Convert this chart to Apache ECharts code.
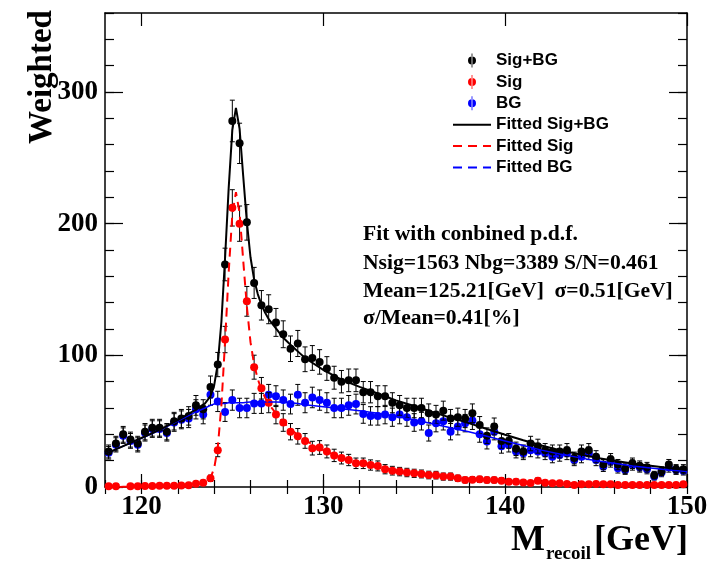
<!DOCTYPE html>
<html>
<head>
<meta charset="utf-8">
<script src="https://cdn.jsdelivr.net/npm/echarts/dist/echarts.min.js"></script>
<style>
  html, body { margin: 0; padding: 0; background: #fff; }
  #chart { width: 717px; height: 562px; }
</style>
</head>
<body>
<div id="chart"></div>
<script>
// Binning of the recoil-mass histogram
const binLo = 118;
const binWidth = 0.4;

// Weighted bin contents and their errors
const sigbg = [27,33,40,36,33,42,45,45,42,50, 52,54,62,59,76,93,169,278,261,201,
  155,138,135,125,116,105,109,97,98,95, 90,83,80,81,81,72,72,69,69,64,
  62,60,60,60,56,55,58,52,53,52, 56,47,39,46,35,35,29,27,33,31,
  28,27,27,28,22,27,28,23,17,21, 17,14,18,16,15,9,12,17,13.5,13.5];
const sigbgErr = [4.9,5.5,6,5.7,5.5,6.2,6.4,6.4,6.2,6.7, 6.9,7,7.5,7.3,8.3,9.2,12.4,15.8,15.3,13.5,
  11.8,11.2,11,10.6,10.2,9.7,9.9,9.4,9.4,9.3, 9,8.7,8.5,8.6,8.6,8.1,8.1,7.9,7.9,7.6,
  7.5,7.4,7.4,7.4,7.1,7,7.2,6.9,6.9,6.9, 7.1,6.5,5.9,6.4,5.6,5.6,5.1,4.9,5.5,5.3,
  5,4.9,4.9,5,4.5,4.9,5,4.6,3.9,4.4, 3.9,3.6,4,3.8,3.7,2.9,3.3,3.9,3.5,3.5];

const sig = [0.5,0.5,null,0.5,0.6,0.7,0.8,0.9,1,1, 1.2,1.3,2.5,3.3,6.6,28,112,212,200,141,
  91,75,64,55,49,42,38.5,35,29.5,30, 27,24,22,20.5,18,18,16.7,16,13.5,12.4,
  11.7,11,10.4,9.9,9.1,9,7.9,7.9,6.6,5.3, 5.6,5.8,5.3,5.3,4.8,4,4,3.5,3,4.8,
  3.2,2.8,2.8,2.3,1.5,2,2,2.3,2,2, 1.5,1.5,1.5,1.5,1.5,1.5,1.5,1.5,1.5,2];
const sigErr = [0.7,0.7,null,0.7,0.7,0.8,0.9,0.9,1,1, 1,1.1,1.5,1.7,2.4,5,10,13.8,13.4,11.3,
  9.1,8.2,7.6,7,6.7,6.2,5.9,5.6,5.2,5.2, 4.9,4.7,4.5,4.3,4,4,3.9,3.8,3.5,3.3,
  3.2,3.2,3.1,3,2.9,2.9,2.7,2.7,2.4,2.2, 2.2,2.3,2.2,2.2,2.1,1.9,1.9,1.8,1.6,2.1,
  1.7,1.6,1.6,1.4,1.2,1.3,1.3,1.4,1.3,1.3, 1.2,1.2,1.2,1.2,1.2,1.2,1.2,1.2,1.2,1.3];

const bg = [26,32,39,35,32,41,44,44,41,49, 51,52,59,55,70,65,57,66,60,60,
  63.5,63.5,70,69,66,63,70,64,68,66, 64,60,60,62,63,55.5,54,54,55,53,
  55,53,49,50,41,48.5,50,42,46,48.5, 50.5,40,34.5,42,31,32,27,25.6,28,27,
  25.6,23,24.3,25.6,20.5,23,25.6,20.5,15.5,19.3, 14.2,13,16.7,15,13.5,8,11,15,13,12.4];
const bgErr = [4.8,5.4,5.9,5.6,5.4,6.1,6.3,6.3,6.1,6.7, 6.8,6.9,7.3,7,7.9,7.7,7.2,7.7,7.4,7.4,
  7.6,7.6,7.9,7.9,7.7,7.5,7.9,7.6,7.8,7.7, 7.6,7.4,7.4,7.5,7.5,7.1,7,7,7,6.9,
  7,6.9,6.7,6.7,6.1,6.6,6.7,6.2,6.4,6.6, 6.8,6,5.6,6.2,5.3,5.4,4.9,4.8,5,4.9,
  4.8,4.6,4.7,4.8,4.3,4.6,4.8,4.3,3.7,4.2, 3.6,3.4,3.9,3.7,3.5,2.7,3.2,3.7,3.4,3.3];

// Fitted p.d.f. curves, sampled along the recoil mass
const fitX = [118,119,120,121,122,123,123.5,123.8,124.0,124.2,124.4,124.6,124.8,125.0,125.2,125.4,125.6,125.8,126.0,126.2,
  126.4,126.6,126.8,127.0,127.4,127.8,128.2,128.6,129,130,131,132,133,134,135,136,137,138,139,140,
  141,142,143,144,145,146,147,148,149,150];
const fitSig = [0,0.1,0.2,0.4,0.8,1.8,3.5,7,14,30,62,110,163,207,224,208,172,137,110,93,
  82,74,68,63,56,49,44,39.5,35.5,28,22,18,15,12.3,10.5,9,7.7,6.5,5.5,4.7,
  4,3.5,3,2.6,2.3,2,1.8,1.6,1.4,1.3];
const fitBG = [25,31,37,43,50,57,60,62,63,63.5,63.5,63.5,64,64,64,64,64,64.3,64.5,64.5,
  64.5,64.5,64.5,64.5,64.5,64.3,64,63.5,62.5,61,59.5,58,56,53.5,51,48,45,42,38.5,35,
  31.5,28,25,22.5,20,18,16,14.5,13,11.8];
const fitSigBG = [25,31.1,37.2,43.4,50.8,58.8,63.5,69,77,93.5,125.5,173.5,227,271,288,272,236,201.3,174.5,157.5,
  146.5,138.5,132.5,127.5,120.5,113.3,108,103,98,89,81.5,76,71,65.8,61.5,57,52.7,48.5,44,39.7,
  35.5,31.5,28,25.1,22.3,20,17.8,16.1,14.4,13.1];

// Axis ticks and labels
const xMajorTicks = [120, 130, 140, 150];
const yMajorTicks = [0, 100, 200, 300];

const xMin = 118, xMax = 150, yMin = 0, yMax = 360;

const binCenters = sigbg.map((_, i) => binLo + binWidth * (i + 0.5));

function points(vals) {
  const out = [];
  vals.forEach((v, i) => { if (v != null) out.push([binCenters[i], v]); });
  return out;
}
function errorBars(vals, errs) {
  const out = [];
  vals.forEach((v, i) => { if (v != null) out.push([binCenters[i], v - errs[i], v + errs[i]]); });
  return out;
}
function curve(ys) { return fitX.map((x, i) => [x, ys[i]]); }

function renderErr(params, api) {
  const x = api.value(0);
  const lo = api.coord([x, api.value(1)]);
  const hi = api.coord([x, api.value(2)]);
  const cap = 2.5;
  const st = { stroke: '#000', lineWidth: 1 };
  return {
    type: 'group',
    children: [
      { type: 'line', shape: { x1: lo[0], y1: lo[1], x2: hi[0], y2: hi[1] }, style: st },
      { type: 'line', shape: { x1: lo[0] - cap, y1: lo[1], x2: lo[0] + cap, y2: lo[1] }, style: st },
      { type: 'line', shape: { x1: hi[0] - cap, y1: hi[1], x2: hi[0] + cap, y2: hi[1] }, style: st }
    ]
  };
}

const serif = 'Liberation Serif';
const sans = 'Liberation Sans';
const frameLine = { show: true, onZero: false, lineStyle: { color: '#000', width: 1.5 } };
const tickStyle = { color: '#000', width: 1.2 };

function xAx(pos, major) {
  return {
    type: 'value', min: xMin, max: xMax, position: pos,
    interval: major ? undefined : 2,
    axisLine: major ? frameLine : { show: false },
    axisTick: major
      ? { inside: true, length: 13, customValues: xMajorTicks, lineStyle: tickStyle }
      : { inside: true, length: 7, lineStyle: tickStyle },
    axisLabel: (major && pos === 'bottom')
      ? { customValues: xMajorTicks, margin: 7, fontFamily: serif, fontWeight: 'bold', fontSize: 27, color: '#000' }
      : { show: false },
    splitLine: { show: false }
  };
}
function yAx(pos, major) {
  return {
    type: 'value', min: yMin, max: yMax, position: pos,
    interval: major ? undefined : 20,
    axisLine: major ? frameLine : { show: false },
    axisTick: major
      ? { inside: true, length: 18, customValues: yMajorTicks, lineStyle: tickStyle }
      : { inside: true, length: 9, lineStyle: tickStyle },
    axisLabel: (major && pos === 'left')
      ? { customValues: yMajorTicks, margin: 7, fontFamily: serif, fontWeight: 'bold', fontSize: 27, color: '#000' }
      : { show: false },
    splitLine: { show: false }
  };
}

const markerIcon = 'path://M4.6,0h0.8v14h-0.8z M1,7a4,4 0 1,0 8,0a4,4 0 1,0 -8,0z';
const noMarker = { opacity: 0 };

const textFont = 'bold 21.6px "Liberation Serif"';

const chart = echarts.init(document.getElementById('chart'), null, { renderer: 'canvas' });
chart.setOption({
  animation: false,
  backgroundColor: '#fff',
  grid: { left: 105, right: 30, top: 13, bottom: 75, containLabel: false },
  xAxis: [xAx('bottom', true), xAx('bottom', false), xAx('top', true), xAx('top', false)],
  yAxis: [yAx('left', true), yAx('left', false), yAx('right', true), yAx('right', false)],
  legend: {
    orient: 'vertical', left: 447, top: 47,
    itemWidth: 38, itemHeight: 14, itemGap: 4.4,
    selectedMode: false,
    textStyle: { fontFamily: sans, fontWeight: 'bold', fontSize: 17, color: '#000' },
    data: [
      { name: 'Sig+BG', icon: markerIcon },
      { name: 'Sig', icon: markerIcon },
      { name: 'BG', icon: markerIcon },
      { name: 'Fitted Sig+BG', itemStyle: noMarker },
      { name: 'Fitted Sig', itemStyle: noMarker },
      { name: 'Fitted BG', itemStyle: noMarker, lineStyle: { type: [9, 6] } }
    ]
  },
  series: [
    { type: 'custom', name: 'BG errors', renderItem: renderErr, data: errorBars(bg, bgErr), encode: { x: 0, y: [1, 2] }, clip: true, z: 2 },
    { type: 'scatter', name: 'BG', data: points(bg), symbolSize: 8, itemStyle: { color: '#0000ff', opacity: 1 }, z: 3 },
    { type: 'custom', name: 'Sig errors', renderItem: renderErr, data: errorBars(sig, sigErr), encode: { x: 0, y: [1, 2] }, clip: true, z: 4 },
    { type: 'scatter', name: 'Sig', data: points(sig), symbolSize: 8, itemStyle: { color: '#ff0000', opacity: 1 }, z: 5 },
    { type: 'custom', name: 'Sig+BG errors', renderItem: renderErr, data: errorBars(sigbg, sigbgErr), encode: { x: 0, y: [1, 2] }, clip: true, z: 6 },
    { type: 'scatter', name: 'Sig+BG', data: points(sigbg), symbolSize: 8, itemStyle: { color: '#000000', opacity: 1 }, z: 7 },
    { type: 'line', name: 'Fitted BG', data: curve(fitBG), symbol: 'none', lineStyle: { color: '#0000ff', width: 1.5 }, itemStyle: { color: '#0000ff' }, z: 8 },
    { type: 'line', name: 'Fitted Sig', data: curve(fitSig), symbol: 'none', lineStyle: { color: '#ff0000', width: 2, type: [9, 6] }, itemStyle: { color: '#ff0000' }, z: 9 },
    { type: 'line', name: 'Fitted Sig+BG', data: curve(fitSigBG), symbol: 'none', lineStyle: { color: '#000000', width: 2 }, itemStyle: { color: '#000000' }, z: 10 }
  ],
  graphic: [
    { type: 'text', left: 363, top: 223, style: { text: 'Fit with conbined p.d.f.', font: textFont, fill: '#000' } },
    { type: 'text', left: 363, top: 252, style: { text: 'Nsig=1563 Nbg=3389 S/N=0.461', font: textFont, fill: '#000' } },
    { type: 'text', left: 363, top: 280, style: { text: 'Mean=125.21[GeV]  \u03c3=0.51[GeV]', font: textFont, fill: '#000' } },
    { type: 'text', left: 363, top: 307, style: { text: '\u03c3/Mean=0.41[%]', font: textFont, fill: '#000' } },
    { type: 'text', x: 42, y: 77, rotation: Math.PI / 2, style: { text: 'Weighted', font: 'bold 33px "Liberation Serif"', fill: '#000', align: 'center', verticalAlign: 'middle' } },
    { type: 'text', x: 511, y: 559, style: { text: 'M', font: 'bold 36px "Liberation Serif"', fill: '#000', align: 'left', verticalAlign: 'bottom' } },
    { type: 'text', x: 546, y: 564, style: { text: 'recoil', font: 'bold 19px "Liberation Serif"', fill: '#000', align: 'left', verticalAlign: 'bottom' } },
    { type: 'text', x: 688, y: 559, style: { text: '[GeV]', font: 'bold 36px "Liberation Serif"', fill: '#000', align: 'right', verticalAlign: 'bottom' } }
  ]
});
</script>
</body>
</html>
